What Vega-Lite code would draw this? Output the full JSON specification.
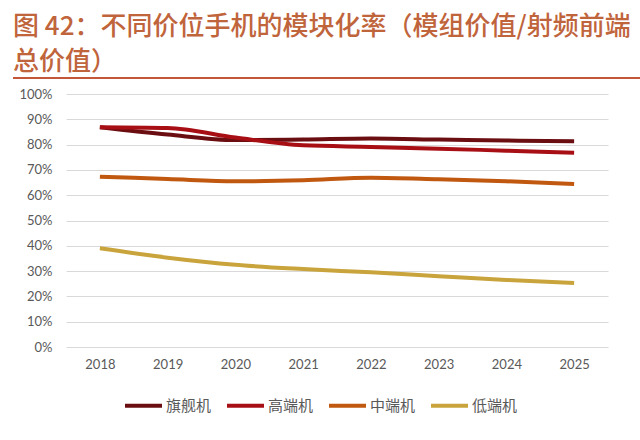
{
  "$schema": "https://vega.github.io/schema/vega-lite/v6.json",
  "autosize": {"type": "none"},
  "width": 542,
  "height": 253,
  "padding": {"left": 66, "top": 94, "right": 32, "bottom": 93},
  "title": {
    "text": ["图 42：不同价位手机的模块化率（模组价值/射频前端", "总价值）"],
    "anchor": "start",
    "frame": "group",
    "dx": -53,
    "offset": 2,
    "font": "Noto Sans CJK SC",
    "fontSize": 26,
    "fontWeight": 500,
    "lineHeight": 35,
    "color": "#C0643C"
  },
  "config": {
    "view": {"stroke": null},
    "axis": {"labelFont": "Lato", "labelColor": "#595959", "labelFontSize": 13}
  },
  "data": {
    "values": [
      {"year": 2018, "type": "旗舰机", "value": 0.869},
      {"year": 2019, "type": "旗舰机", "value": 0.840},
      {"year": 2020, "type": "旗舰机", "value": 0.818},
      {"year": 2021, "type": "旗舰机", "value": 0.820},
      {"year": 2022, "type": "旗舰机", "value": 0.824},
      {"year": 2023, "type": "旗舰机", "value": 0.820},
      {"year": 2024, "type": "旗舰机", "value": 0.816},
      {"year": 2025, "type": "旗舰机", "value": 0.813},
      {"year": 2018, "type": "高端机", "value": 0.869},
      {"year": 2019, "type": "高端机", "value": 0.866},
      {"year": 2020, "type": "高端机", "value": 0.828},
      {"year": 2021, "type": "高端机", "value": 0.797},
      {"year": 2022, "type": "高端机", "value": 0.791},
      {"year": 2023, "type": "高端机", "value": 0.784},
      {"year": 2024, "type": "高端机", "value": 0.776},
      {"year": 2025, "type": "高端机", "value": 0.768},
      {"year": 2018, "type": "中端机", "value": 0.673},
      {"year": 2019, "type": "中端机", "value": 0.664},
      {"year": 2020, "type": "中端机", "value": 0.655},
      {"year": 2021, "type": "中端机", "value": 0.659},
      {"year": 2022, "type": "中端机", "value": 0.669},
      {"year": 2023, "type": "中端机", "value": 0.663},
      {"year": 2024, "type": "中端机", "value": 0.655},
      {"year": 2025, "type": "中端机", "value": 0.644},
      {"year": 2018, "type": "低端机", "value": 0.390},
      {"year": 2019, "type": "低端机", "value": 0.353},
      {"year": 2020, "type": "低端机", "value": 0.325},
      {"year": 2021, "type": "低端机", "value": 0.308},
      {"year": 2022, "type": "低端机", "value": 0.295},
      {"year": 2023, "type": "低端机", "value": 0.280},
      {"year": 2024, "type": "低端机", "value": 0.265},
      {"year": 2025, "type": "低端机", "value": 0.253}
    ]
  },
  "layer": [
    {
      "mark": {"type": "line", "strokeWidth": 4, "interpolate": "monotone", "clip": false},
      "encoding": {
        "x": {
          "field": "year",
          "type": "quantitative",
          "scale": {"domain": [2017.5, 2025.5], "nice": false, "zero": false},
          "axis": {
            "title": null,
            "values": [2018, 2019, 2020, 2021, 2022, 2023, 2024, 2025],
            "format": "d",
            "grid": false,
            "ticks": false,
            "domain": false,
            "labelPadding": 11
          }
        },
        "y": {
          "field": "value",
          "type": "quantitative",
          "scale": {"domain": [0, 1], "nice": false},
          "axis": {
            "title": null,
            "format": ".0%",
            "values": [0, 0.1, 0.2, 0.3, 0.4, 0.5, 0.6, 0.7, 0.8, 0.9, 1],
            "labelOverlap": false,
            "ticks": false,
            "domain": false,
            "gridColor": "#D9D9D9",
            "labelPadding": 14
          }
        },
        "color": {
          "field": "type",
          "type": "nominal",
          "scale": {
            "domain": ["旗舰机", "高端机", "中端机", "低端机"],
            "range": ["#6B0E12", "#A80F15", "#C0580F", "#C9A43C"]
          },
          "legend": {
            "title": null,
            "orient": "none",
            "legendX": 57,
            "legendY": 291,
            "direction": "horizontal",
            "symbolType": "stroke",
            "symbolSize": 1369,
            "symbolStrokeWidth": 4,
            "labelFont": "Noto Sans CJK SC",
            "labelFontSize": 15,
            "labelColor": "#595959",
            "labelOffset": 2,
            "columnPadding": 7
          }
        }
      }
    },
    {
      "mark": {"type": "rule", "color": "#C4573A", "strokeWidth": 2},
      "encoding": {
        "x": {
          "datum": 2016.72,
          "type": "quantitative",
          "axis": {
            "title": null,
            "values": [2018, 2019, 2020, 2021, 2022, 2023, 2024, 2025],
            "format": "d",
            "grid": false,
            "ticks": false,
            "domain": false,
            "labelPadding": 11
          }
        },
        "x2": {"datum": 2026.0},
        "y": {
          "datum": 1.063,
          "type": "quantitative",
          "axis": {
            "title": null,
            "format": ".0%",
            "values": [0, 0.1, 0.2, 0.3, 0.4, 0.5, 0.6, 0.7, 0.8, 0.9, 1],
            "labelOverlap": false,
            "ticks": false,
            "domain": false,
            "gridColor": "#D9D9D9",
            "labelPadding": 14
          }
        }
      }
    }
  ]
}
